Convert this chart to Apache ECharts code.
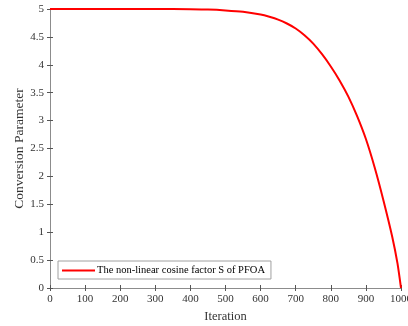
<!DOCTYPE html>
<html>
<head>
<meta charset="utf-8">
<script src="https://cdn.jsdelivr.net/npm/echarts@6/dist/echarts.min.js"></script>
<style>
  html, body { margin: 0; padding: 0; background: #ffffff; }
  #chart { width: 408px; height: 326px; }
</style>
</head>
<body>
<div id="chart"></div>
<script>
// values
const iterations = [0, 100, 200, 300, 400, 450, 500, 550, 600, 625, 650, 675, 700, 725, 750, 775, 800, 825, 850, 875, 900, 925, 950, 975, 990, 1000]
const conversionValues = [5, 5, 5, 5, 4.995, 4.99, 4.975, 4.95, 4.9, 4.86, 4.81, 4.74, 4.65, 4.53, 4.38, 4.19, 3.97, 3.72, 3.43, 3.08, 2.67, 2.16, 1.57, 0.92, 0.44, 0]
const seriesName = 'The non-linear cosine factor S of PFOA'

const axisColor = '#8c8c8c'
const labelColor = '#333333'
const font = 'Liberation Serif'

const chart = echarts.init(document.getElementById('chart'))

const plainAxis = {
  axisLine: { show: true, lineStyle: { color: axisColor, width: 1 } },
  axisTick: { show: true, inside: true, length: 3, lineStyle: { color: '#555555' } },
  splitLine: { show: false }
}

chart.setOption({
  animation: false,
  grid: { left: 50, right: 7, top: 9, bottom: 38, outerBoundsMode: 'none', containLabel: false },
  legend: {
    data: [seriesName],
    left: 58,
    top: 261,
    padding: [4, 6, 3, 4],
    icon: 'rect',
    itemWidth: 33,
    itemHeight: 2,
    itemGap: 4,
    borderColor: '#a0a0a0',
    borderWidth: 1,
    backgroundColor: '#ffffff',
    textStyle: { fontFamily: font, fontSize: 10.5, color: '#000000', padding: [0, 0, 0, -3] }
  },
  xAxis: [
    Object.assign({}, plainAxis, {
      type: 'value',
      min: 0,
      max: 1000,
      interval: 100,
      name: 'Iteration',
      nameLocation: 'middle',
      nameGap: 21,
      nameTextStyle: { fontFamily: font, fontSize: 12.5, color: labelColor },
      axisLabel: { fontFamily: font, fontSize: 11, color: labelColor, margin: 6, formatter: v => String(v) }
    }),
    Object.assign({}, plainAxis, {
      type: 'value',
      position: 'top',
      min: 0,
      max: 1000,
      interval: 100,
      axisLabel: { show: false }
    })
  ],
  yAxis: [
    Object.assign({}, plainAxis, {
      type: 'value',
      min: 0,
      max: 5,
      interval: 0.5,
      name: 'Conversion Parameter',
      nameLocation: 'middle',
      nameGap: 24,
      nameMoveOverlap: false,
      nameTextStyle: { fontFamily: font, fontSize: 13.5, color: labelColor },
      axisLabel: { fontFamily: font, fontSize: 11, color: labelColor, margin: 6 }
    }),
    Object.assign({}, plainAxis, {
      type: 'value',
      position: 'right',
      min: 0,
      max: 5,
      interval: 0.5,
      axisLabel: { show: false }
    })
  ],
  series: [{
    name: seriesName,
    type: 'line',
    data: iterations.map((it, i) => [it, conversionValues[i]]),
    smooth: 0.2,
    symbol: 'none',
    showSymbol: false,
    clip: false,
    lineStyle: { color: '#ff0000', width: 2 },
    itemStyle: { color: '#ff0000' }
  }]
})
</script>
</body>
</html>
